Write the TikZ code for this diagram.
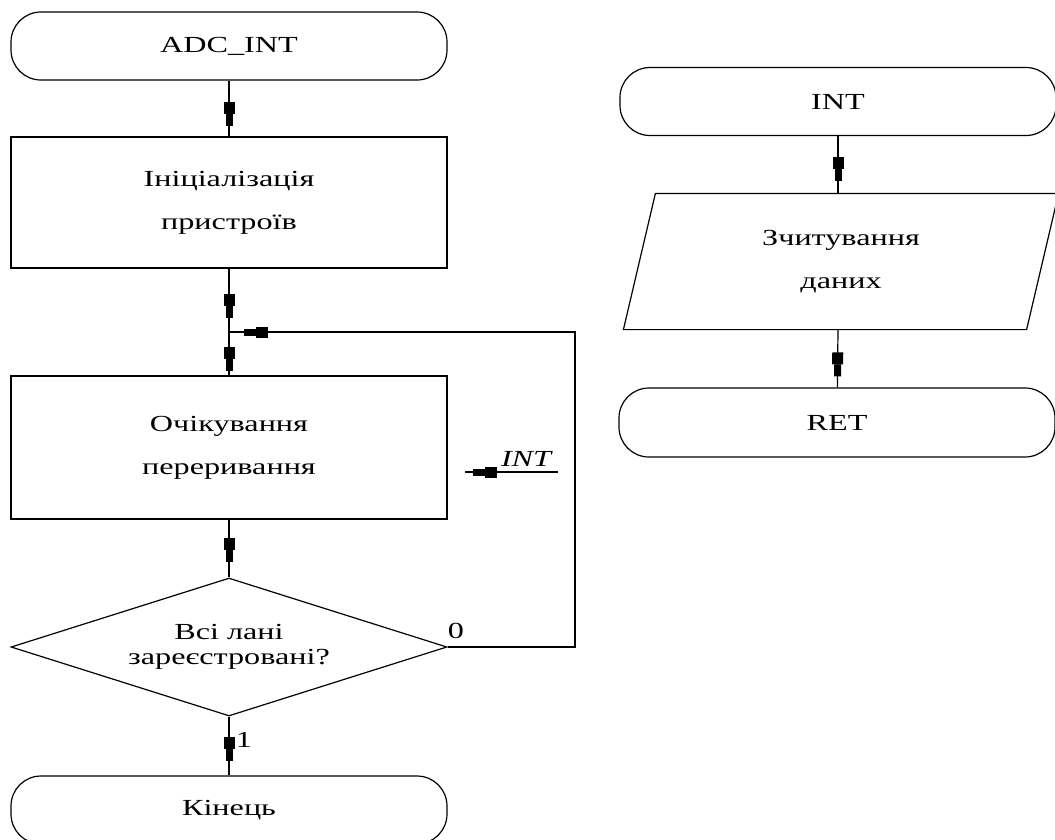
\documentclass[tikz,border=0pt]{standalone}
\usepackage{fontspec}
\setmainfont{Liberation Serif}[FakeStretch=1.4]
\usetikzlibrary{shapes.geometric,decorations.markings,calc}
\tikzset{
  every node/.style={font=\fontsize{23}{43}\selectfont, align=center, inner sep=0pt},
  terminal/.style={draw, rectangle, rounded corners=30pt, minimum width=436pt, minimum height=68pt},
  procbox/.style={draw, rectangle, minimum width=436pt},
  decision/.style={draw, diamond, shape aspect=3.16, minimum width=436pt, minimum height=138pt, font=\fontsize{23}{25}\selectfont},
  flow/.style={postaction={decorate}, decoration={markings, mark=at position #1 with {
      \fill (-24pt,-5.5pt) rectangle (-12pt,5.5pt);
      \fill (-12pt,-3.5pt) rectangle (0pt,3.5pt);}}},
  lbl/.style={font=\fontsize{23}{23}\selectfont}
}
\begin{document}
\begin{tikzpicture}[x=1pt, y=-1pt, line width=1.2pt]
\clip (0,0) rectangle (1055,839);
% left column
\node[terminal] (adc) at (229,46) {ADC\_INT};
\node[procbox, minimum height=131pt] (init) at (229,202.5) {Ініціалізація\\пристроїв};
\coordinate (j) at (229,332);
\node[procbox, minimum height=143pt] (wait) at (229,447.5) {Очікування\\переривання};
\node[decision] (dec) at (229,647) {Всі лані\\зареєстровані?};
\node[terminal] (fin) at (229,810) {Кінець};
\coordinate (lr) at (575,647);
\coordinate (ur) at (575,332);
\coordinate (sigA) at (558,472);
\coordinate (sigB) at (465,472);
\draw[flow=-10pt] (adc) -- (init);
\draw[flow=-14pt] (init) -- (j);
\draw[flow=-4pt] (j) -- (wait);
\draw[flow=-15pt] (wait) -- (dec);
\draw[flow=-14pt] (dec) -- (fin);
\draw[flow=-15pt] (dec.east) -- (lr) -- (ur) -- (j);
\draw[flow=-8pt] (sigA) -- (sigB);
\node[lbl, anchor=south] (intlbl) at (527,467) {\textit{INT}};
\node[lbl] (zero) at (456,631) {0};
\node[lbl] (one) at (244,740) {1};
% right column
\node[terminal] (int) at (838,101.5) {INT};
\node[minimum width=434pt, minimum height=135pt] (rd) at (841,261.5) {Зчитування\\даних};
\draw ([xshift=32pt]rd.north west) -- (rd.north east) -- ([xshift=-32pt]rd.south east) -- (rd.south west) -- cycle;
\node[terminal, minimum height=69pt] (ret) at (837,422.5) {RET};
\draw[flow=-12pt] (int) -- (int |- rd.north);
\draw[flow=-11pt] (int |- rd.south) -- (ret);
\end{tikzpicture}
\end{document}
